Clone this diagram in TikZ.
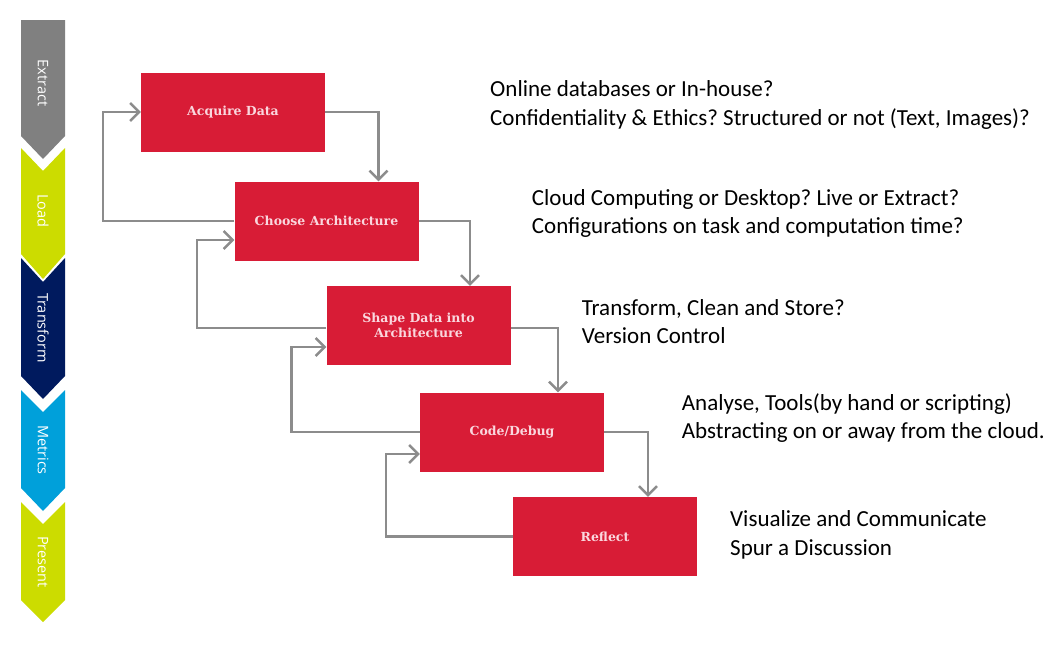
\documentclass[tikz,border=0pt]{standalone}
\usepackage{fontspec}
\setmainfont{Carlito}
\newfontfamily\chevfont{Open Sans}
\newfontfamily\boxfont{DejaVu Serif}
\usetikzlibrary{arrows.meta}
\definecolor{boxred}{RGB}{216,28,54}
\definecolor{boxtxt}{RGB}{250,215,222}
\definecolor{linegray}{RGB}{140,140,140}
\definecolor{chgray}{RGB}{128,128,128}
\definecolor{chlime}{RGB}{204,220,0}
\definecolor{chnavy}{RGB}{0,26,94}
\definecolor{chcyan}{RGB}{0,160,218}
\tikzset{
  stepbox/.style={draw=none, fill=boxred, minimum width=184pt, minimum height=79pt,
    inner sep=0pt, align=center, text=boxtxt,
    font=\boxfont\bfseries\fontsize{12.5}{15}\selectfont},
  conn/.style={draw=linegray, line width=2.4pt,
    -{Straight Barb[length=9pt,width=18pt,line width=2.4pt]}},
  chevlabel/.style={rotate=-90, text=white, font=\chevfont\fontsize{14.5}{16}\selectfont},
  note/.style={anchor=base west, inner sep=0pt, font=\fontsize{23}{28}\selectfont}
}
\begin{document}
\frenchspacing
\begin{tikzpicture}[x=1pt,y=-1pt]
\useasboundingbox (0,0) rectangle (1063,645);
\fill[white] (0,0) rectangle (1063,645);
% chevrons
\fill[chgray] (21,20) -- (65,20) -- (65,136) -- (43,159) -- (21,136) -- cycle;
\fill[chlime] (21,148) -- (43,171) -- (65,148) -- (65,254) -- (43,279) -- (21,254) -- cycle;
\fill[chnavy] (21,258) -- (43,282) -- (65,258) -- (65,376) -- (43,399) -- (21,376) -- cycle;
\fill[chcyan] (21,390) -- (43,412) -- (65,390) -- (65,488) -- (43,511) -- (21,488) -- cycle;
\fill[chlime] (21,502) -- (43,524) -- (65,502) -- (65,600) -- (43,622) -- (21,600) -- cycle;
\node[chevlabel] (lE) at (43,83) {Extract};
\node[chevlabel] (lL) at (43,211) {Load};
\node[chevlabel] (lT) at (43,328) {Transform};
\node[chevlabel] (lM) at (43,450) {Metrics};
\node[chevlabel] (lP) at (43,562) {Present};
% boxes
\node[stepbox] (A) at (233,112) {Acquire Data};
\node[stepbox] (C) at (326.5,221) {Choose Architecture};
\node[stepbox] (S) at (418.5,325.5) {Shape Data into\\Architecture};
\node[stepbox] (D) at (512,432) {Code/Debug};
\node[stepbox] (R) at (605,536.5) {Reflect};
% forward connectors
\draw[conn] (A.east) -| ([xshift=52pt]C.north);
\draw[conn] (C.east) -| ([xshift=51.5pt]S.north);
\draw[conn] ([yshift=-2.5pt]S.east) -| ([xshift=46pt]D.north);
\draw[conn] (D.east) -| ([xshift=43pt]R.north);
% feedback connectors
\draw[conn] (C.west) -- ++(-131.5,0) |- (A.west);
\draw[conn] ([yshift=-2.5pt]S.west) -- ++(-129.5,0) |- ([yshift=-19pt]C.west);
\draw[conn] (D.west) -- ++(-128.3,0) |- ([yshift=-21.5pt]S.west);
\draw[conn] (R.west) -- ++(-127,0) |- ([yshift=-22pt]D.west);
% notes
\node[note] (n1a) at (490,96.7) {Online databases or In-house?};
\node[note] (n1b) at (490,125) {Confidentiality \& Ethics? Structured or not (Text, Images)?};
\node[note] (n2a) at (531.7,205) {Cloud Computing or Desktop? Live or Extract?};
\node[note] (n2b) at (531.7,233) {Configurations on task and computation time?};
\node[note] (n3a) at (581.7,315) {Transform, Clean and Store?};
\node[note] (n3b) at (581.7,343) {Version Control};
\node[note] (n4a) at (681.7,410) {Analyse, Tools(by hand or scripting)};
\node[note] (n4b) at (681.7,438) {Abstracting on or away from the cloud.};
\node[note] (n5a) at (730,526.7) {Visualize and Communicate};
\node[note] (n5b) at (730,555) {Spur a Discussion};
\end{tikzpicture}
\end{document}
